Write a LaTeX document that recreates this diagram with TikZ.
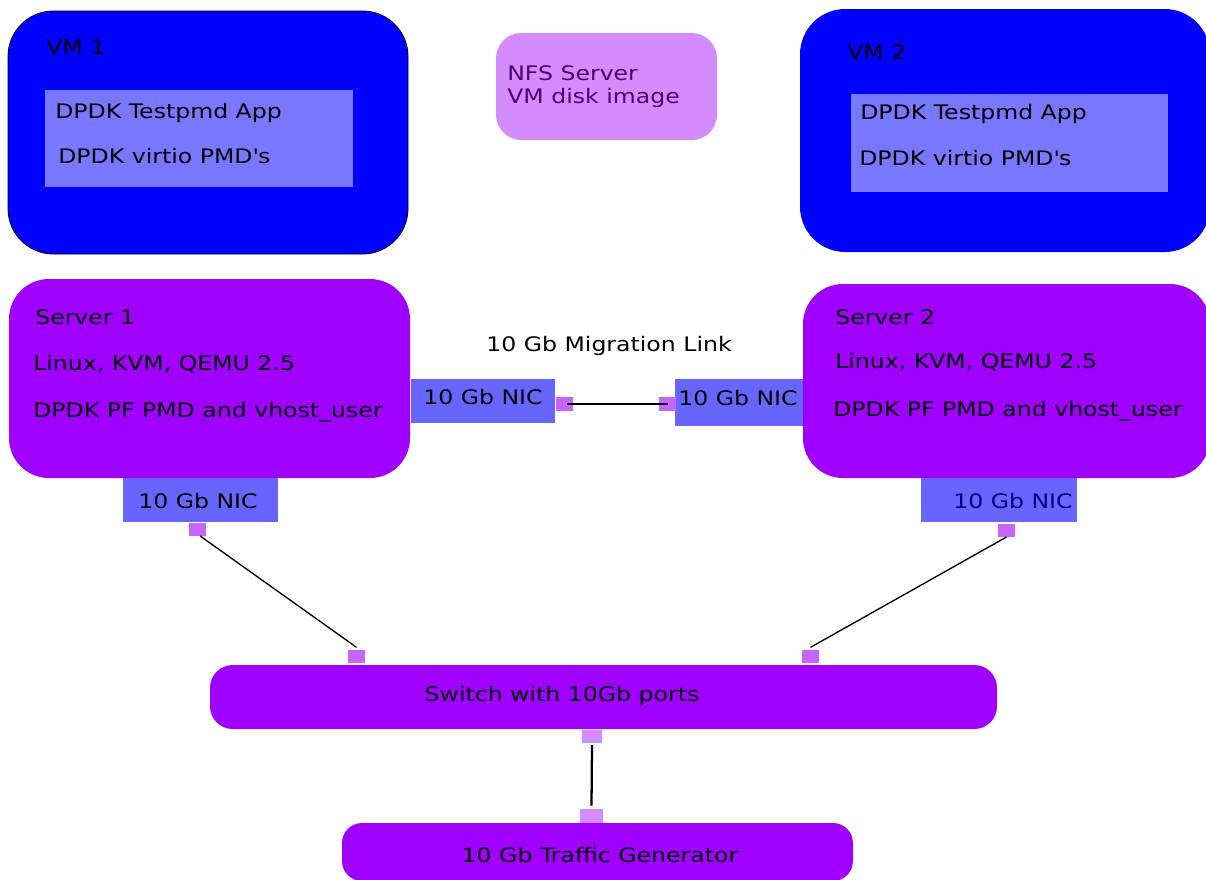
\documentclass[tikz,border=0pt]{standalone}
\usepackage{fontspec}
\setmainfont{DejaVu Sans}[FakeStretch=1.18]
\usetikzlibrary{fit}
\definecolor{vmblue}{RGB}{0,0,255}
\definecolor{inner}{RGB}{119,119,255}
\definecolor{nic}{RGB}{102,102,255}
\definecolor{srv}{RGB}{160,0,255}
\definecolor{port}{RGB}{200,100,255}
\definecolor{lport}{RGB}{212,139,255}
\definecolor{nfstext}{RGB}{75,0,110}
\definecolor{navy}{RGB}{0,0,128}
\tikzset{
  box/.style={inner sep=0pt, outer sep=0pt},
  vmbox/.style={box, fill=vmblue, rounded corners=34pt},
  innerbox/.style={box, fill=inner},
  nicbox/.style={box, fill=nic},
  srvbox/.style={box, fill=srv, rounded corners=30pt},
  portbox/.style={box, fill=port},
  lportbox/.style={box, fill=lport},
  lbl/.style={inner sep=0pt, anchor=base west, font=\fontsize{15}{18}\selectfont},
  clbl/.style={lbl, anchor=base},
  link/.style={draw=black, line width=1pt},
}
\begin{document}
\begin{tikzpicture}[x=0.75pt, y=-0.75pt]
\useasboundingbox (0,0) rectangle (1206,879);
\clip (0,0) rectangle (1206,879);
% VM 1
\node[vmbox, draw=black, line width=0.6pt, fit={(8,11)(408,254)}] (vm1) {};
\node[innerbox, fit={(45,90)(353,187)}] (vm1in) {};
\node[lbl] (vm1t) at (46,54) {VM 1};
\node[lbl] (vm1a) at (55,118) {DPDK Testpmd App};
\node[lbl] (vm1b) at (58,163) {DPDK virtio PMD\textquotesingle s};
% NFS
\node[box, fill=lport, rounded corners=19pt, fit={(496,33)(717,140)}] (nfs) {};
\node[lbl, text=nfstext] (nfsa) at (507,80) {NFS Server};
\node[lbl, text=nfstext] (nfsb) at (507,103) {VM disk image};
% VM 2
\node[vmbox, fit={(800,9)(1210,252)}] (vm2) {};
\node[innerbox, fit={(851,94)(1168,192)}] (vm2in) {};
\node[lbl] (vm2t) at (847,59) {VM 2};
\node[lbl] (vm2a) at (860,119) {DPDK Testpmd App};
\node[lbl] (vm2b) at (859,165) {DPDK virtio PMD\textquotesingle s};
% Server 1
\node[srvbox, fit={(9,279)(410,478)}] (s1) {};
\node[lbl] (s1t) at (35,324) {Server 1};
\node[lbl] (s1a) at (33,370) {Linux, KVM, QEMU 2.5};
\node[lbl] (s1b) at (33,417) {DPDK PF PMD and vhost\_user};
% Server 2
\node[srvbox, fit={(803,284)(1210,478)}] (s2) {};
\node[lbl] (s2t) at (835,324) {Server 2};
\node[lbl] (s2a) at (835,368) {Linux, KVM, QEMU 2.5};
\node[lbl] (s2b) at (833,416) {DPDK PF PMD and vhost\_user};
% migration NICs
\node[nicbox, fit={(411,379)(555,423)}] (nic1r) {};
\node[lbl] (nic1rt) at (423,404) {10 Gb NIC};
\node[portbox, fit={(556,397)(573,411)}] (p1r) {};
\node[nicbox, fit={(675,379)(803,426)}] (nic2l) {};
\node[portbox, fit={(659,397)(676,411)}] (p2l) {};
\node[lbl] (nic2lt) at (678,405) {10 Gb NIC};
\node[clbl] (mig) at (609,351) {10 Gb Migration Link};
% bottom NICs
\node[nicbox, fit={(123,478)(278,522)}] (nic1b) {};
\node[lbl] (nic1bt) at (138,508) {10 Gb NIC};
\node[portbox, fit={(189,523)(206,536)}] (p1b) {};
\node[nicbox, fit={(921,478)(1077,522)}] (nic2b) {};
\node[lbl, text=navy] (nic2bt) at (953,508) {10 Gb NIC};
\node[portbox, fit={(998,524)(1015,537)}] (p2b) {};
% switch
\node[box, fill=srv, rounded corners=17pt, fit={(210,665)(997,729)}] (sw) {};
\node[clbl] (swt) at (562,701) {Switch with 10Gb ports};
\node[portbox, fit={(348,650)(365,663)}] (swp1) {};
\node[portbox, fit={(802,650)(819,663)}] (swp2) {};
\node[lportbox, fit={(582,730)(602,743)}] (swp3) {};
% traffic generator
\node[lportbox, fit={(580,809)(603,823)}] (tgp) {};
\node[box, fill=srv, rounded corners=15pt, fit={(342,823)(853,881)}] (tg) {};
\node[clbl] (tgt) at (600,862) {10 Gb Traffic Generator};
% links
\draw[link] ([xshift=2pt]p1r.center) -- (p2l.center);
\draw[link] ([xshift=2pt]p1b.south) -- ([yshift=2pt]swp1.north);
\draw[link] (p2b.south) -- ([yshift=2pt]swp2.north);
\draw[link, line width=1.7pt] ([yshift=-1.5pt]swp3.south) -- ([yshift=2.5pt]tgp.north);
\end{tikzpicture}
\end{document}
